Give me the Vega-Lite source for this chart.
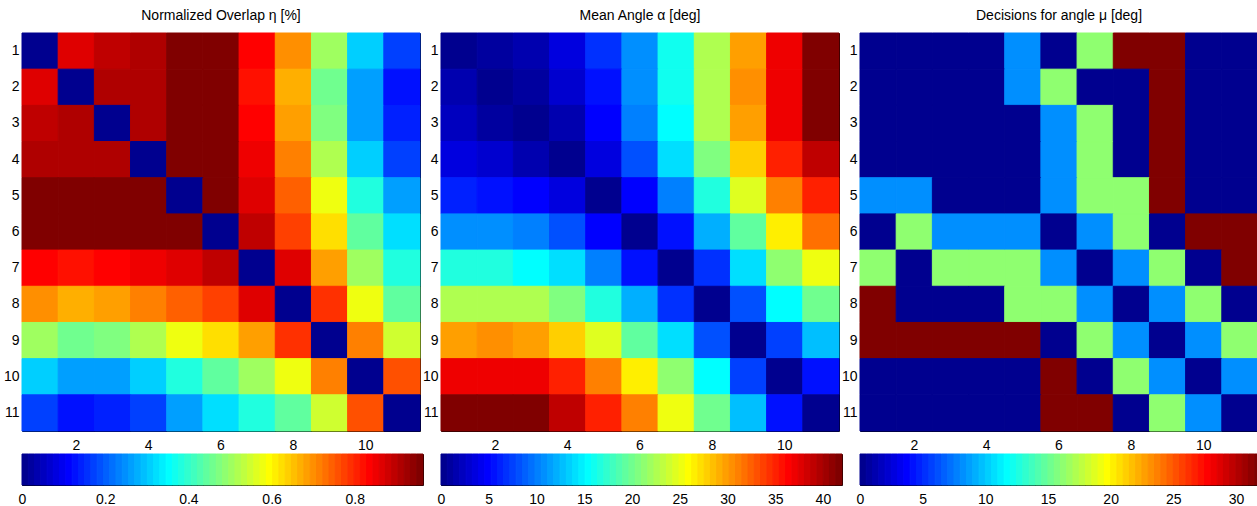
{
"$schema": "https://vega.github.io/schema/vega-lite/v6.json",
"padding": {"left": 2, "top": 8, "right": 0, "bottom": 0},
"background": "white",
"config": {
  "view": {"stroke": "black", "strokeWidth": 1},
  "font": "Liberation Sans",
  "title": {"font": "Liberation Sans", "fontSize": 14, "fontWeight": "normal", "color": "black", "offset": 10},
  "axis": {"domain": false, "grid": false, "tickColor": "black", "tickSize": -4, "tickWidth": 1, "labelColor": "black", "labelFont": "Liberation Sans", "labelFontSize": 14, "labelAngle": 0, "zindex": 1, "labelFlush": false, "labelOverlap": false},
  "axisBottom": {"labelPadding": 11},
  "axisLeft": {"labelPadding": 7},
  "axisTop": {"labels": false},
  "axisRight": {"labels": false}
},
"datasets": {
"m": [
{"r":1,"c":1,"eta":0,"alpha":0,"mu":0},{"r":1,"c":2,"eta":0.866,"alpha":1.0,"mu":0},{"r":1,"c":3,"eta":0.896,"alpha":1.6,"mu":0},{"r":1,"c":4,"eta":0.911,"alpha":3.6,"mu":0},{"r":1,"c":5,"eta":0.96,"alpha":6.9,"mu":8},{"r":1,"c":6,"eta":0.96,"alpha":10.8,"mu":0},{"r":1,"c":7,"eta":0.836,"alpha":16.1,"mu":16},{"r":1,"c":8,"eta":0.700,"alpha":22.6,"mu":32},{"r":1,"c":9,"eta":0.505,"alpha":29.9,"mu":32},{"r":1,"c":10,"eta":0.309,"alpha":37.1,"mu":0},{"r":1,"c":11,"eta":0.173,"alpha":42.0,"mu":0},
{"r":2,"c":1,"eta":0.866,"alpha":1.6,"mu":0},{"r":2,"c":2,"eta":0,"alpha":0,"mu":0},{"r":2,"c":3,"eta":0.911,"alpha":1.0,"mu":0},{"r":2,"c":4,"eta":0.911,"alpha":3.0,"mu":0},{"r":2,"c":5,"eta":0.96,"alpha":5.6,"mu":8},{"r":2,"c":6,"eta":0.96,"alpha":10.8,"mu":16},{"r":2,"c":7,"eta":0.821,"alpha":16.1,"mu":0},{"r":2,"c":8,"eta":0.670,"alpha":22.6,"mu":0},{"r":2,"c":9,"eta":0.459,"alpha":30.5,"mu":32},{"r":2,"c":10,"eta":0.264,"alpha":37.1,"mu":0},{"r":2,"c":11,"eta":0.128,"alpha":41.8,"mu":0},
{"r":3,"c":1,"eta":0.896,"alpha":2.3,"mu":0},{"r":3,"c":2,"eta":0.911,"alpha":1.0,"mu":0},{"r":3,"c":3,"eta":0,"alpha":0,"mu":0},{"r":3,"c":4,"eta":0.911,"alpha":1.6,"mu":0},{"r":3,"c":5,"eta":0.96,"alpha":4.9,"mu":0},{"r":3,"c":6,"eta":0.96,"alpha":10.2,"mu":8},{"r":3,"c":7,"eta":0.836,"alpha":15.4,"mu":16},{"r":3,"c":8,"eta":0.685,"alpha":22.6,"mu":0},{"r":3,"c":9,"eta":0.475,"alpha":29.9,"mu":32},{"r":3,"c":10,"eta":0.264,"alpha":37.1,"mu":0},{"r":3,"c":11,"eta":0.143,"alpha":41.8,"mu":0},
{"r":4,"c":1,"eta":0.911,"alpha":3.6,"mu":0},{"r":4,"c":2,"eta":0.911,"alpha":3.0,"mu":0},{"r":4,"c":3,"eta":0.911,"alpha":1.6,"mu":0},{"r":4,"c":4,"eta":0,"alpha":0,"mu":0},{"r":4,"c":5,"eta":0.96,"alpha":3.6,"mu":0},{"r":4,"c":6,"eta":0.96,"alpha":8.2,"mu":8},{"r":4,"c":7,"eta":0.851,"alpha":14.1,"mu":16},{"r":4,"c":8,"eta":0.716,"alpha":20.7,"mu":0},{"r":4,"c":9,"eta":0.520,"alpha":27.9,"mu":32},{"r":4,"c":10,"eta":0.309,"alpha":35.1,"mu":0},{"r":4,"c":11,"eta":0.173,"alpha":39.0,"mu":0},
{"r":5,"c":1,"eta":0.96,"alpha":6.2,"mu":8},{"r":5,"c":2,"eta":0.96,"alpha":5.6,"mu":8},{"r":5,"c":3,"eta":0.96,"alpha":4.9,"mu":0},{"r":5,"c":4,"eta":0.96,"alpha":3.6,"mu":0},{"r":5,"c":5,"eta":0,"alpha":0,"mu":0},{"r":5,"c":6,"eta":0.964,"alpha":4.9,"mu":8},{"r":5,"c":7,"eta":0.866,"alpha":10.2,"mu":16},{"r":5,"c":8,"eta":0.746,"alpha":16.7,"mu":16},{"r":5,"c":9,"eta":0.580,"alpha":24.6,"mu":32},{"r":5,"c":10,"eta":0.384,"alpha":31.2,"mu":0},{"r":5,"c":11,"eta":0.264,"alpha":35.1,"mu":0},
{"r":6,"c":1,"eta":0.96,"alpha":10.8,"mu":0},{"r":6,"c":2,"eta":0.96,"alpha":10.8,"mu":16},{"r":6,"c":3,"eta":0.96,"alpha":10.2,"mu":8},{"r":6,"c":4,"eta":0.96,"alpha":8.2,"mu":8},{"r":6,"c":5,"eta":0.964,"alpha":4.9,"mu":8},{"r":6,"c":6,"eta":0,"alpha":0,"mu":0},{"r":6,"c":7,"eta":0.896,"alpha":5.6,"mu":8},{"r":6,"c":8,"eta":0.776,"alpha":12.1,"mu":16},{"r":6,"c":9,"eta":0.625,"alpha":19.4,"mu":0},{"r":6,"c":10,"eta":0.444,"alpha":26.6,"mu":32},{"r":6,"c":11,"eta":0.324,"alpha":31.8,"mu":32},
{"r":7,"c":1,"eta":0.836,"alpha":16.7,"mu":16},{"r":7,"c":2,"eta":0.821,"alpha":16.7,"mu":0},{"r":7,"c":3,"eta":0.836,"alpha":15.4,"mu":16},{"r":7,"c":4,"eta":0.851,"alpha":14.1,"mu":16},{"r":7,"c":5,"eta":0.866,"alpha":10.2,"mu":16},{"r":7,"c":6,"eta":0.896,"alpha":5.6,"mu":8},{"r":7,"c":7,"eta":0,"alpha":0,"mu":0},{"r":7,"c":8,"eta":0.866,"alpha":6.9,"mu":8},{"r":7,"c":9,"eta":0.685,"alpha":14.1,"mu":16},{"r":7,"c":10,"eta":0.505,"alpha":21.3,"mu":0},{"r":7,"c":11,"eta":0.384,"alpha":25.3,"mu":32},
{"r":8,"c":1,"eta":0.700,"alpha":22.6,"mu":32},{"r":8,"c":2,"eta":0.670,"alpha":22.6,"mu":0},{"r":8,"c":3,"eta":0.685,"alpha":22.6,"mu":0},{"r":8,"c":4,"eta":0.716,"alpha":20.7,"mu":0},{"r":8,"c":5,"eta":0.746,"alpha":16.7,"mu":16},{"r":8,"c":6,"eta":0.776,"alpha":12.1,"mu":16},{"r":8,"c":7,"eta":0.866,"alpha":6.9,"mu":8},{"r":8,"c":8,"eta":0,"alpha":0,"mu":0},{"r":8,"c":9,"eta":0.791,"alpha":8.2,"mu":8},{"r":8,"c":10,"eta":0.580,"alpha":15.4,"mu":16},{"r":8,"c":11,"eta":0.444,"alpha":20.0,"mu":0},
{"r":9,"c":1,"eta":0.505,"alpha":29.9,"mu":32},{"r":9,"c":2,"eta":0.459,"alpha":30.5,"mu":32},{"r":9,"c":3,"eta":0.475,"alpha":29.9,"mu":32},{"r":9,"c":4,"eta":0.520,"alpha":27.9,"mu":32},{"r":9,"c":5,"eta":0.580,"alpha":24.6,"mu":32},{"r":9,"c":6,"eta":0.625,"alpha":19.4,"mu":0},{"r":9,"c":7,"eta":0.685,"alpha":14.1,"mu":16},{"r":9,"c":8,"eta":0.791,"alpha":8.2,"mu":8},{"r":9,"c":9,"eta":0,"alpha":0,"mu":0},{"r":9,"c":10,"eta":0.716,"alpha":7.5,"mu":8},{"r":9,"c":11,"eta":0.550,"alpha":12.8,"mu":16},
{"r":10,"c":1,"eta":0.309,"alpha":37.1,"mu":0},{"r":10,"c":2,"eta":0.264,"alpha":37.1,"mu":0},{"r":10,"c":3,"eta":0.264,"alpha":37.1,"mu":0},{"r":10,"c":4,"eta":0.309,"alpha":35.1,"mu":0},{"r":10,"c":5,"eta":0.384,"alpha":31.2,"mu":0},{"r":10,"c":6,"eta":0.444,"alpha":26.6,"mu":32},{"r":10,"c":7,"eta":0.505,"alpha":21.3,"mu":0},{"r":10,"c":8,"eta":0.580,"alpha":15.4,"mu":16},{"r":10,"c":9,"eta":0.716,"alpha":7.5,"mu":8},{"r":10,"c":10,"eta":0,"alpha":0,"mu":0},{"r":10,"c":11,"eta":0.761,"alpha":5.6,"mu":8},
{"r":11,"c":1,"eta":0.173,"alpha":42.0,"mu":0},{"r":11,"c":2,"eta":0.128,"alpha":41.8,"mu":0},{"r":11,"c":3,"eta":0.143,"alpha":41.8,"mu":0},{"r":11,"c":4,"eta":0.173,"alpha":39.0,"mu":0},{"r":11,"c":5,"eta":0.264,"alpha":35.1,"mu":0},{"r":11,"c":6,"eta":0.324,"alpha":31.2,"mu":32},{"r":11,"c":7,"eta":0.384,"alpha":25.3,"mu":32},{"r":11,"c":8,"eta":0.444,"alpha":20.0,"mu":0},{"r":11,"c":9,"eta":0.550,"alpha":12.8,"mu":16},{"r":11,"c":10,"eta":0.761,"alpha":5.6,"mu":8},{"r":11,"c":11,"eta":0,"alpha":0,"mu":0}
],
"cb": [
{"k":0,"k2":1},{"k":1,"k2":2},{"k":2,"k2":3},{"k":3,"k2":4},{"k":4,"k2":5},{"k":5,"k2":6},{"k":6,"k2":7},{"k":7,"k2":8},
{"k":8,"k2":9},{"k":9,"k2":10},{"k":10,"k2":11},{"k":11,"k2":12},{"k":12,"k2":13},{"k":13,"k2":14},{"k":14,"k2":15},{"k":15,"k2":16},
{"k":16,"k2":17},{"k":17,"k2":18},{"k":18,"k2":19},{"k":19,"k2":20},{"k":20,"k2":21},{"k":21,"k2":22},{"k":22,"k2":23},{"k":23,"k2":24},
{"k":24,"k2":25},{"k":25,"k2":26},{"k":26,"k2":27},{"k":27,"k2":28},{"k":28,"k2":29},{"k":29,"k2":30},{"k":30,"k2":31},{"k":31,"k2":32},
{"k":32,"k2":33},{"k":33,"k2":34},{"k":34,"k2":35},{"k":35,"k2":36},{"k":36,"k2":37},{"k":37,"k2":38},{"k":38,"k2":39},{"k":39,"k2":40},
{"k":40,"k2":41},{"k":41,"k2":42},{"k":42,"k2":43},{"k":43,"k2":44},{"k":44,"k2":45},{"k":45,"k2":46},{"k":46,"k2":47},{"k":47,"k2":48},
{"k":48,"k2":49},{"k":49,"k2":50},{"k":50,"k2":51},{"k":51,"k2":52},{"k":52,"k2":53},{"k":53,"k2":54},{"k":54,"k2":55},{"k":55,"k2":56},
{"k":56,"k2":57},{"k":57,"k2":58},{"k":58,"k2":59},{"k":59,"k2":60},{"k":60,"k2":61},{"k":61,"k2":62},{"k":62,"k2":63},{"k":63,"k2":64}
]
},
"columns": 3,
"spacing": {"row": 23, "column": 18},
"bounds": "flush",
"align": "each",
"resolve": {"scale": {"fill": "independent", "stroke": "independent", "x": "independent", "y": "independent"}},
"concat": [
{
 "width": 398, "height": 398,
 "title": {"text": "Normalized Overlap η [%]"},
 "data": {"name": "m"},
 "layer": [
  {"mark": {"type": "rect", "strokeWidth": 1},
   "encoding": {
    "x": {"field": "c", "type": "ordinal", "title": null, "scale": {"paddingInner": 0, "paddingOuter": 0}, "axis": {"orient": "bottom", "values": [2,4,6,8,10]}},
    "y": {"field": "r", "type": "ordinal", "title": null, "scale": {"paddingInner": 0, "paddingOuter": 0}, "axis": {"orient": "left"}},
    "fill": {"field": "eta", "type": "quantitative", "legend": null, "scale": {"type": "quantize", "domain": [0, 0.964], "range": ["#00008F","#00009F","#0000AF","#0000BF","#0000CF","#0000DF","#0000EF","#0000FF","#0010FF","#0020FF","#0030FF","#0040FF","#0050FF","#0060FF","#0070FF","#0080FF","#008FFF","#009FFF","#00AFFF","#00BFFF","#00CFFF","#00DFFF","#00EFFF","#00FFFF","#10FFEF","#20FFDF","#30FFCF","#40FFBF","#50FFAF","#60FF9F","#70FF8F","#80FF80","#8FFF70","#9FFF60","#AFFF50","#BFFF40","#CFFF30","#DFFF20","#EFFF10","#FFFF00","#FFEF00","#FFDF00","#FFCF00","#FFBF00","#FFAF00","#FF9F00","#FF8F00","#FF8000","#FF7000","#FF6000","#FF5000","#FF4000","#FF3000","#FF2000","#FF1000","#FF0000","#EF0000","#DF0000","#CF0000","#BF0000","#AF0000","#9F0000","#8F0000","#800000"]}},
    "stroke": {"field": "eta", "type": "quantitative", "legend": null, "scale": {"type": "quantize", "domain": [0, 0.964], "range": ["#00008F","#00009F","#0000AF","#0000BF","#0000CF","#0000DF","#0000EF","#0000FF","#0010FF","#0020FF","#0030FF","#0040FF","#0050FF","#0060FF","#0070FF","#0080FF","#008FFF","#009FFF","#00AFFF","#00BFFF","#00CFFF","#00DFFF","#00EFFF","#00FFFF","#10FFEF","#20FFDF","#30FFCF","#40FFBF","#50FFAF","#60FF9F","#70FF8F","#80FF80","#8FFF70","#9FFF60","#AFFF50","#BFFF40","#CFFF30","#DFFF20","#EFFF10","#FFFF00","#FFEF00","#FFDF00","#FFCF00","#FFBF00","#FFAF00","#FF9F00","#FF8F00","#FF8000","#FF7000","#FF6000","#FF5000","#FF4000","#FF3000","#FF2000","#FF1000","#FF0000","#EF0000","#DF0000","#CF0000","#BF0000","#AF0000","#9F0000","#8F0000","#800000"]}}
   }},
  {"mark": {"type": "rect", "opacity": 0},
   "encoding": {
    "x": {"field": "c", "type": "ordinal", "title": null, "axis": {"orient": "top", "values": [2,4,6,8,10]}},
    "y": {"field": "r", "type": "ordinal", "title": null, "axis": {"orient": "right"}}
   }}
 ],
 "resolve": {"axis": {"x": "independent", "y": "independent"}}
},
{
 "width": 398, "height": 398,
 "title": {"text": "Mean Angle α [deg]"},
 "data": {"name": "m"},
 "layer": [
  {"mark": {"type": "rect", "strokeWidth": 1},
   "encoding": {
    "x": {"field": "c", "type": "ordinal", "title": null, "scale": {"paddingInner": 0, "paddingOuter": 0}, "axis": {"orient": "bottom", "values": [2,4,6,8,10]}},
    "y": {"field": "r", "type": "ordinal", "title": null, "scale": {"paddingInner": 0, "paddingOuter": 0}, "axis": {"orient": "left"}},
    "fill": {"field": "alpha", "type": "quantitative", "legend": null, "scale": {"type": "quantize", "domain": [0, 42], "range": ["#00008F","#00009F","#0000AF","#0000BF","#0000CF","#0000DF","#0000EF","#0000FF","#0010FF","#0020FF","#0030FF","#0040FF","#0050FF","#0060FF","#0070FF","#0080FF","#008FFF","#009FFF","#00AFFF","#00BFFF","#00CFFF","#00DFFF","#00EFFF","#00FFFF","#10FFEF","#20FFDF","#30FFCF","#40FFBF","#50FFAF","#60FF9F","#70FF8F","#80FF80","#8FFF70","#9FFF60","#AFFF50","#BFFF40","#CFFF30","#DFFF20","#EFFF10","#FFFF00","#FFEF00","#FFDF00","#FFCF00","#FFBF00","#FFAF00","#FF9F00","#FF8F00","#FF8000","#FF7000","#FF6000","#FF5000","#FF4000","#FF3000","#FF2000","#FF1000","#FF0000","#EF0000","#DF0000","#CF0000","#BF0000","#AF0000","#9F0000","#8F0000","#800000"]}},
    "stroke": {"field": "alpha", "type": "quantitative", "legend": null, "scale": {"type": "quantize", "domain": [0, 42], "range": ["#00008F","#00009F","#0000AF","#0000BF","#0000CF","#0000DF","#0000EF","#0000FF","#0010FF","#0020FF","#0030FF","#0040FF","#0050FF","#0060FF","#0070FF","#0080FF","#008FFF","#009FFF","#00AFFF","#00BFFF","#00CFFF","#00DFFF","#00EFFF","#00FFFF","#10FFEF","#20FFDF","#30FFCF","#40FFBF","#50FFAF","#60FF9F","#70FF8F","#80FF80","#8FFF70","#9FFF60","#AFFF50","#BFFF40","#CFFF30","#DFFF20","#EFFF10","#FFFF00","#FFEF00","#FFDF00","#FFCF00","#FFBF00","#FFAF00","#FF9F00","#FF8F00","#FF8000","#FF7000","#FF6000","#FF5000","#FF4000","#FF3000","#FF2000","#FF1000","#FF0000","#EF0000","#DF0000","#CF0000","#BF0000","#AF0000","#9F0000","#8F0000","#800000"]}}
   }},
  {"mark": {"type": "rect", "opacity": 0},
   "encoding": {
    "x": {"field": "c", "type": "ordinal", "title": null, "axis": {"orient": "top", "values": [2,4,6,8,10]}},
    "y": {"field": "r", "type": "ordinal", "title": null, "axis": {"orient": "right"}}
   }}
 ],
 "resolve": {"axis": {"x": "independent", "y": "independent"}}
},
{
 "width": 398, "height": 398,
 "title": {"text": "Decisions for angle μ [deg]"},
 "data": {"name": "m"},
 "layer": [
  {"mark": {"type": "rect", "strokeWidth": 1},
   "encoding": {
    "x": {"field": "c", "type": "ordinal", "title": null, "scale": {"paddingInner": 0, "paddingOuter": 0}, "axis": {"orient": "bottom", "values": [2,4,6,8,10]}},
    "y": {"field": "r", "type": "ordinal", "title": null, "scale": {"paddingInner": 0, "paddingOuter": 0}, "axis": {"orient": "left"}},
    "fill": {"field": "mu", "type": "quantitative", "legend": null, "scale": {"type": "quantize", "domain": [0, 32], "range": ["#00008F","#00009F","#0000AF","#0000BF","#0000CF","#0000DF","#0000EF","#0000FF","#0010FF","#0020FF","#0030FF","#0040FF","#0050FF","#0060FF","#0070FF","#0080FF","#008FFF","#009FFF","#00AFFF","#00BFFF","#00CFFF","#00DFFF","#00EFFF","#00FFFF","#10FFEF","#20FFDF","#30FFCF","#40FFBF","#50FFAF","#60FF9F","#70FF8F","#80FF80","#8FFF70","#9FFF60","#AFFF50","#BFFF40","#CFFF30","#DFFF20","#EFFF10","#FFFF00","#FFEF00","#FFDF00","#FFCF00","#FFBF00","#FFAF00","#FF9F00","#FF8F00","#FF8000","#FF7000","#FF6000","#FF5000","#FF4000","#FF3000","#FF2000","#FF1000","#FF0000","#EF0000","#DF0000","#CF0000","#BF0000","#AF0000","#9F0000","#8F0000","#800000"]}},
    "stroke": {"field": "mu", "type": "quantitative", "legend": null, "scale": {"type": "quantize", "domain": [0, 32], "range": ["#00008F","#00009F","#0000AF","#0000BF","#0000CF","#0000DF","#0000EF","#0000FF","#0010FF","#0020FF","#0030FF","#0040FF","#0050FF","#0060FF","#0070FF","#0080FF","#008FFF","#009FFF","#00AFFF","#00BFFF","#00CFFF","#00DFFF","#00EFFF","#00FFFF","#10FFEF","#20FFDF","#30FFCF","#40FFBF","#50FFAF","#60FF9F","#70FF8F","#80FF80","#8FFF70","#9FFF60","#AFFF50","#BFFF40","#CFFF30","#DFFF20","#EFFF10","#FFFF00","#FFEF00","#FFDF00","#FFCF00","#FFBF00","#FFAF00","#FF9F00","#FF8F00","#FF8000","#FF7000","#FF6000","#FF5000","#FF4000","#FF3000","#FF2000","#FF1000","#FF0000","#EF0000","#DF0000","#CF0000","#BF0000","#AF0000","#9F0000","#8F0000","#800000"]}}
   }},
  {"mark": {"type": "rect", "opacity": 0},
   "encoding": {
    "x": {"field": "c", "type": "ordinal", "title": null, "axis": {"orient": "top", "values": [2,4,6,8,10]}},
    "y": {"field": "r", "type": "ordinal", "title": null, "axis": {"orient": "right"}}
   }}
 ],
 "resolve": {"axis": {"x": "independent", "y": "independent"}}
},
{
 "width": 401, "height": 31,
 "data": {"name": "cb"},
 "layer": [
  {"mark": {"type": "rect", "strokeWidth": 1},
   "encoding": {
    "x": {"field": "k", "type": "quantitative", "title": null, "scale": {"domain": [0, 64], "nice": false, "zero": false}, "axis": {"orient": "bottom", "values": [0, 13.278, 26.556, 39.834, 53.112], "labelExpr": "format(datum.value*0.964/64, '.1~f')"}},
    "x2": {"field": "k2"},
    "y": {"datum": 0, "type": "quantitative", "scale": {"domain": [0, 1], "nice": false}, "axis": null},
    "y2": {"datum": 1},
    "fill": {"field": "k", "type": "quantitative", "legend": null, "scale": {"type": "quantize", "domain": [0, 64], "range": ["#00008F","#00009F","#0000AF","#0000BF","#0000CF","#0000DF","#0000EF","#0000FF","#0010FF","#0020FF","#0030FF","#0040FF","#0050FF","#0060FF","#0070FF","#0080FF","#008FFF","#009FFF","#00AFFF","#00BFFF","#00CFFF","#00DFFF","#00EFFF","#00FFFF","#10FFEF","#20FFDF","#30FFCF","#40FFBF","#50FFAF","#60FF9F","#70FF8F","#80FF80","#8FFF70","#9FFF60","#AFFF50","#BFFF40","#CFFF30","#DFFF20","#EFFF10","#FFFF00","#FFEF00","#FFDF00","#FFCF00","#FFBF00","#FFAF00","#FF9F00","#FF8F00","#FF8000","#FF7000","#FF6000","#FF5000","#FF4000","#FF3000","#FF2000","#FF1000","#FF0000","#EF0000","#DF0000","#CF0000","#BF0000","#AF0000","#9F0000","#8F0000","#800000"]}},
    "stroke": {"field": "k", "type": "quantitative", "legend": null, "scale": {"type": "quantize", "domain": [0, 64], "range": ["#00008F","#00009F","#0000AF","#0000BF","#0000CF","#0000DF","#0000EF","#0000FF","#0010FF","#0020FF","#0030FF","#0040FF","#0050FF","#0060FF","#0070FF","#0080FF","#008FFF","#009FFF","#00AFFF","#00BFFF","#00CFFF","#00DFFF","#00EFFF","#00FFFF","#10FFEF","#20FFDF","#30FFCF","#40FFBF","#50FFAF","#60FF9F","#70FF8F","#80FF80","#8FFF70","#9FFF60","#AFFF50","#BFFF40","#CFFF30","#DFFF20","#EFFF10","#FFFF00","#FFEF00","#FFDF00","#FFCF00","#FFBF00","#FFAF00","#FF9F00","#FF8F00","#FF8000","#FF7000","#FF6000","#FF5000","#FF4000","#FF3000","#FF2000","#FF1000","#FF0000","#EF0000","#DF0000","#CF0000","#BF0000","#AF0000","#9F0000","#8F0000","#800000"]}}
   }},
  {"mark": {"type": "rect", "opacity": 0},
   "encoding": {
    "x": {"field": "k", "type": "quantitative", "title": null, "axis": {"orient": "top", "values": [0, 13.278, 26.556, 39.834, 53.112]}},
    "x2": {"field": "k2"},
    "y": {"datum": 0, "type": "quantitative"},
    "y2": {"datum": 1}
   }}
 ],
 "resolve": {"axis": {"x": "independent"}}
},
{
 "width": 401, "height": 31,
 "data": {"name": "cb"},
 "layer": [
  {"mark": {"type": "rect", "strokeWidth": 1},
   "encoding": {
    "x": {"field": "k", "type": "quantitative", "title": null, "scale": {"domain": [0, 64], "nice": false, "zero": false}, "axis": {"orient": "bottom", "values": [0, 7.619, 15.238, 22.857, 30.476, 38.095, 45.714, 53.333, 60.952], "labelExpr": "format(datum.value*42/64, '.0f')"}},
    "x2": {"field": "k2"},
    "y": {"datum": 0, "type": "quantitative", "scale": {"domain": [0, 1], "nice": false}, "axis": null},
    "y2": {"datum": 1},
    "fill": {"field": "k", "type": "quantitative", "legend": null, "scale": {"type": "quantize", "domain": [0, 64], "range": ["#00008F","#00009F","#0000AF","#0000BF","#0000CF","#0000DF","#0000EF","#0000FF","#0010FF","#0020FF","#0030FF","#0040FF","#0050FF","#0060FF","#0070FF","#0080FF","#008FFF","#009FFF","#00AFFF","#00BFFF","#00CFFF","#00DFFF","#00EFFF","#00FFFF","#10FFEF","#20FFDF","#30FFCF","#40FFBF","#50FFAF","#60FF9F","#70FF8F","#80FF80","#8FFF70","#9FFF60","#AFFF50","#BFFF40","#CFFF30","#DFFF20","#EFFF10","#FFFF00","#FFEF00","#FFDF00","#FFCF00","#FFBF00","#FFAF00","#FF9F00","#FF8F00","#FF8000","#FF7000","#FF6000","#FF5000","#FF4000","#FF3000","#FF2000","#FF1000","#FF0000","#EF0000","#DF0000","#CF0000","#BF0000","#AF0000","#9F0000","#8F0000","#800000"]}},
    "stroke": {"field": "k", "type": "quantitative", "legend": null, "scale": {"type": "quantize", "domain": [0, 64], "range": ["#00008F","#00009F","#0000AF","#0000BF","#0000CF","#0000DF","#0000EF","#0000FF","#0010FF","#0020FF","#0030FF","#0040FF","#0050FF","#0060FF","#0070FF","#0080FF","#008FFF","#009FFF","#00AFFF","#00BFFF","#00CFFF","#00DFFF","#00EFFF","#00FFFF","#10FFEF","#20FFDF","#30FFCF","#40FFBF","#50FFAF","#60FF9F","#70FF8F","#80FF80","#8FFF70","#9FFF60","#AFFF50","#BFFF40","#CFFF30","#DFFF20","#EFFF10","#FFFF00","#FFEF00","#FFDF00","#FFCF00","#FFBF00","#FFAF00","#FF9F00","#FF8F00","#FF8000","#FF7000","#FF6000","#FF5000","#FF4000","#FF3000","#FF2000","#FF1000","#FF0000","#EF0000","#DF0000","#CF0000","#BF0000","#AF0000","#9F0000","#8F0000","#800000"]}}
   }},
  {"mark": {"type": "rect", "opacity": 0},
   "encoding": {
    "x": {"field": "k", "type": "quantitative", "title": null, "axis": {"orient": "top", "values": [0, 7.619, 15.238, 22.857, 30.476, 38.095, 45.714, 53.333, 60.952]}},
    "x2": {"field": "k2"},
    "y": {"datum": 0, "type": "quantitative"},
    "y2": {"datum": 1}
   }}
 ],
 "resolve": {"axis": {"x": "independent"}}
},
{
 "width": 401, "height": 31,
 "data": {"name": "cb"},
 "layer": [
  {"mark": {"type": "rect", "strokeWidth": 1},
   "encoding": {
    "x": {"field": "k", "type": "quantitative", "title": null, "scale": {"domain": [0, 64], "nice": false, "zero": false}, "axis": {"orient": "bottom", "values": [0, 10, 20, 30, 40, 50, 60], "labelExpr": "format(datum.value/2, '.0f')"}},
    "x2": {"field": "k2"},
    "y": {"datum": 0, "type": "quantitative", "scale": {"domain": [0, 1], "nice": false}, "axis": null},
    "y2": {"datum": 1},
    "fill": {"field": "k", "type": "quantitative", "legend": null, "scale": {"type": "quantize", "domain": [0, 64], "range": ["#00008F","#00009F","#0000AF","#0000BF","#0000CF","#0000DF","#0000EF","#0000FF","#0010FF","#0020FF","#0030FF","#0040FF","#0050FF","#0060FF","#0070FF","#0080FF","#008FFF","#009FFF","#00AFFF","#00BFFF","#00CFFF","#00DFFF","#00EFFF","#00FFFF","#10FFEF","#20FFDF","#30FFCF","#40FFBF","#50FFAF","#60FF9F","#70FF8F","#80FF80","#8FFF70","#9FFF60","#AFFF50","#BFFF40","#CFFF30","#DFFF20","#EFFF10","#FFFF00","#FFEF00","#FFDF00","#FFCF00","#FFBF00","#FFAF00","#FF9F00","#FF8F00","#FF8000","#FF7000","#FF6000","#FF5000","#FF4000","#FF3000","#FF2000","#FF1000","#FF0000","#EF0000","#DF0000","#CF0000","#BF0000","#AF0000","#9F0000","#8F0000","#800000"]}},
    "stroke": {"field": "k", "type": "quantitative", "legend": null, "scale": {"type": "quantize", "domain": [0, 64], "range": ["#00008F","#00009F","#0000AF","#0000BF","#0000CF","#0000DF","#0000EF","#0000FF","#0010FF","#0020FF","#0030FF","#0040FF","#0050FF","#0060FF","#0070FF","#0080FF","#008FFF","#009FFF","#00AFFF","#00BFFF","#00CFFF","#00DFFF","#00EFFF","#00FFFF","#10FFEF","#20FFDF","#30FFCF","#40FFBF","#50FFAF","#60FF9F","#70FF8F","#80FF80","#8FFF70","#9FFF60","#AFFF50","#BFFF40","#CFFF30","#DFFF20","#EFFF10","#FFFF00","#FFEF00","#FFDF00","#FFCF00","#FFBF00","#FFAF00","#FF9F00","#FF8F00","#FF8000","#FF7000","#FF6000","#FF5000","#FF4000","#FF3000","#FF2000","#FF1000","#FF0000","#EF0000","#DF0000","#CF0000","#BF0000","#AF0000","#9F0000","#8F0000","#800000"]}}
   }},
  {"mark": {"type": "rect", "opacity": 0},
   "encoding": {
    "x": {"field": "k", "type": "quantitative", "title": null, "axis": {"orient": "top", "values": [0, 10, 20, 30, 40, 50, 60]}},
    "x2": {"field": "k2"},
    "y": {"datum": 0, "type": "quantitative"},
    "y2": {"datum": 1}
   }}
 ],
 "resolve": {"axis": {"x": "independent"}}
}
]
}
